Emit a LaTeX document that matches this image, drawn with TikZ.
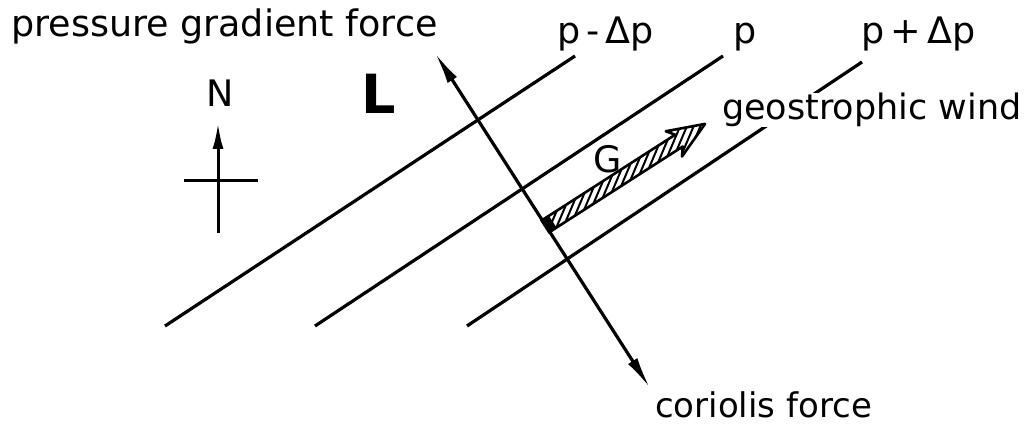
\documentclass[tikz,border=0pt]{standalone}
\usepackage{fontspec}
\setmainfont{DejaVu Sans}
\usetikzlibrary{arrows.meta}

\begin{document}
\begin{tikzpicture}[x=1pt,y=-1pt,
  isobar/.style={line width=3.2pt},
  force/.style={line width=3.2pt,-{Latex[length=32pt,width=11pt]}},
  lbl/.style={font=\fontsize{36.5}{42}\selectfont,inner sep=0pt,anchor=base west},
]
\useasboundingbox (0,0) rectangle (1034,427);
\coordinate (a1) at (165,326); \coordinate (b1) at (575,56);
\coordinate (a2) at (315,326); \coordinate (b2) at (723,56);
\coordinate (a3) at (467,326); \coordinate (b3) at (862,62);
\coordinate (origin) at (546,226);
\coordinate (pgtip) at (435,53);
\coordinate (cortip) at (650,388);
\coordinate (ntip) at (218,123);
\coordinate (nbot) at (218,233);
\coordinate (nleft) at (184,181);
\coordinate (nright) at (258,181);
\draw[isobar] (a1) -- (b1);
\draw[isobar] (a2) -- (b2);
\draw[isobar] (a3) -- (b3);
\draw[force] (origin) -- (pgtip);
\draw[force] (origin) -- (cortip);
\draw[line width=3pt,-{Latex[length=26pt,width=11pt]}] (nbot) -- (ntip);
\draw[line width=3pt] (nleft) -- (nright);
\begin{scope}[shift={(origin)},rotate=32.7,x=1pt,y=1pt]
  \begin{scope}
    \clip (0,-7) -- (158,-7) -- (152,-15) -- (189,0) -- (152,15) -- (158,7) -- (0,7) -- cycle;
    \foreach \i in {-4,7,...,210}
      \draw[line width=2pt] (\i-22,-15) -- (\i+22,15);
  \end{scope}
  \draw[line width=2.6pt,line join=round]
    (0,-7) -- (158,-7) -- (152,-15) -- (189,0) -- (152,15) -- (158,7) -- (0,7) -- cycle;
  \fill (-2,-8) rectangle (8,8);
\end{scope}
\node[lbl] (pgf) at (11,37) {pressure gradient force};
\node[lbl] (pmin) at (557,44) {p\,-\,Δp};
\node[lbl] (pmid) at (733,44) {p};
\node[lbl] (pplus) at (861,44) {p\,+\,Δp};
\node[lbl,anchor=base] (north) at (220,107) {N};
\node[lbl,anchor=base,font=\fontsize{54}{60}\selectfont\bfseries] (low) at (379,114) {L};
\node[lbl,anchor=base] (glab) at (608,173) {G};
\node[lbl,fill=white,font=\fontsize{35}{42}\selectfont] (gwind) at (722,120) {geostrophic wind};
\node[lbl,font=\fontsize{34}{42}\selectfont] (cor) at (655,418) {coriolis force};
\end{tikzpicture}
\end{document}
